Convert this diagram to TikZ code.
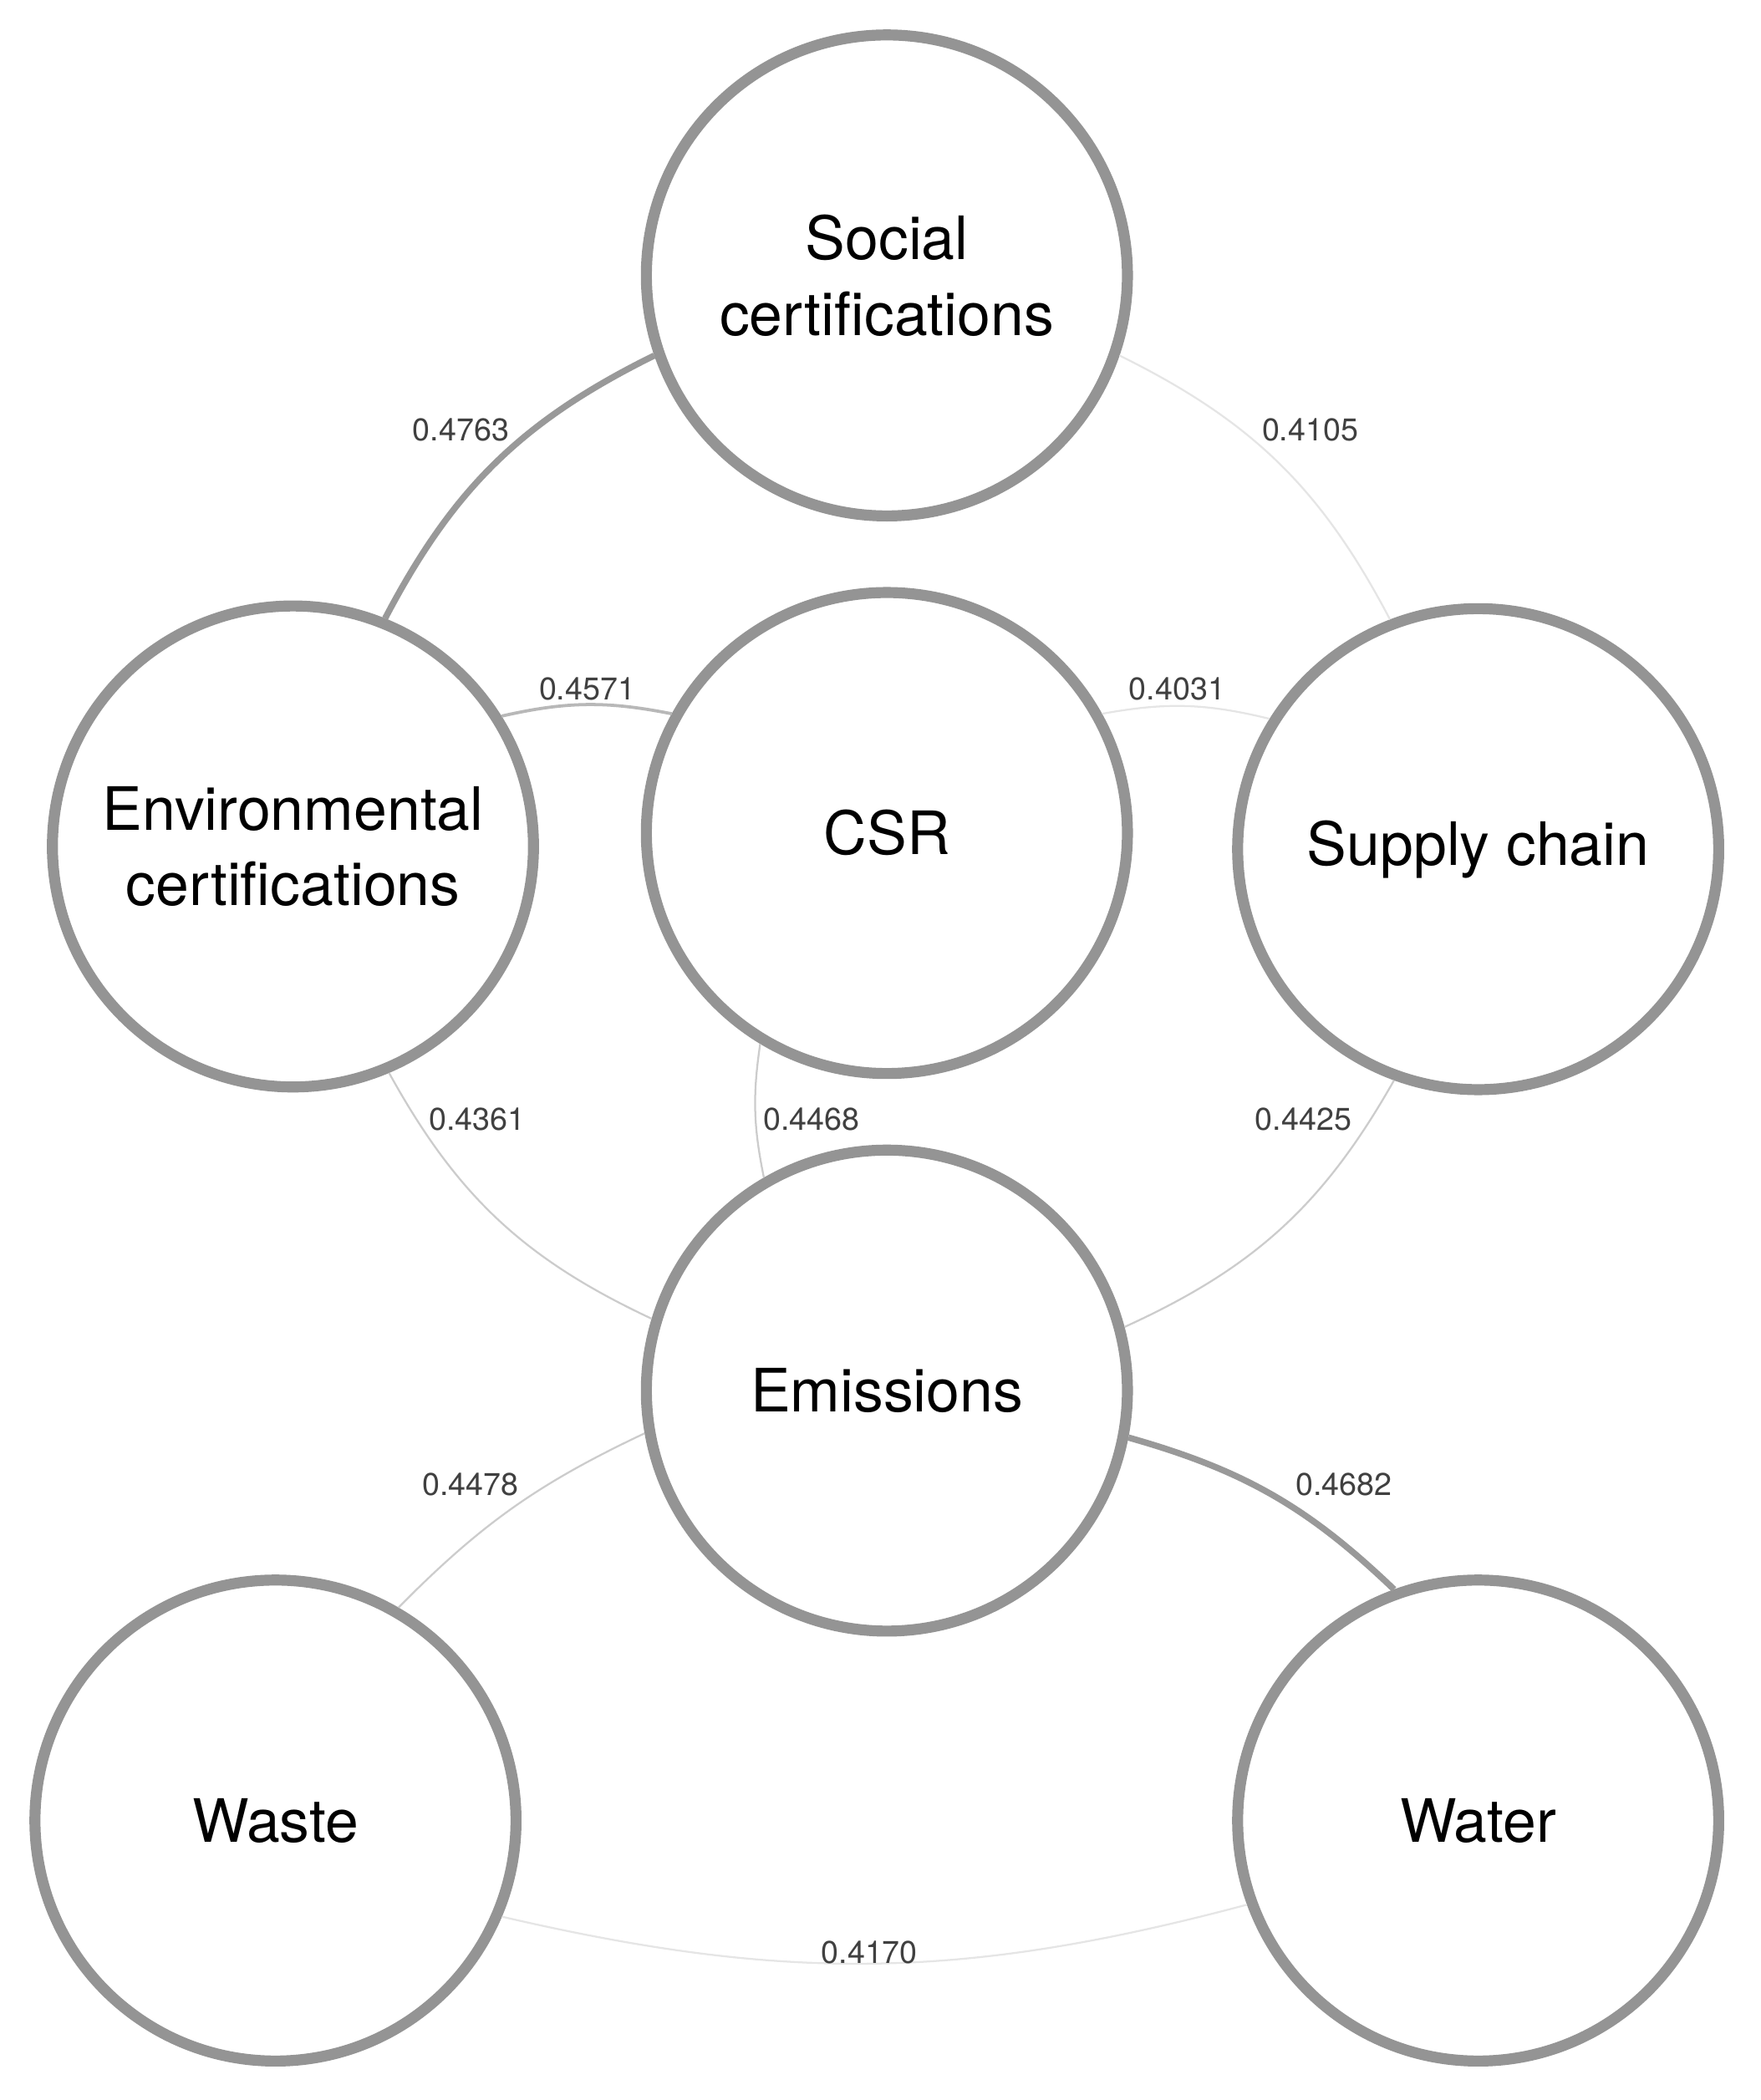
\documentclass[tikz,border=0pt]{standalone}
\usepackage{fontspec}
\setmainfont{TeX Gyre Heros}
\begin{document}
\begin{tikzpicture}[x=0.03cm,y=-0.03cm,
  topic/.style={circle,draw=black!42,line width=7pt,minimum size=358*0.03cm,inner sep=0pt,align=center,font=\fontsize{38}{48}\selectfont},
  lbl/.style={font=\fontsize{20}{24}\selectfont,text=black!75,inner sep=1pt},
  strong/.style={draw=black!40,line width=4pt},
  mid/.style={draw=black!28,line width=2pt},
  weak/.style={draw=black!20,line width=1.2pt},
  faint/.style={draw=black!10,line width=1.2pt}]
\useasboundingbox (0,0) rectangle (1310,1563);
\node[topic] (soc) at (660,205) {Social\\certifications};
\node[topic] (env) at (218,630) {Environmental\\certifications};
\node[topic] (csr) at (660,620) {CSR};
\node[topic] (sup) at (1100,632) {Supply chain};
\node[topic] (emi) at (660,1035) {Emissions};
\node[topic] (was) at (205,1355) {Waste};
\node[topic] (wat) at (1100,1355) {Water};

\draw[strong] (soc.199) to[bend right=18] (env.68);
\draw[faint] (soc.-19) to[bend left=18] (sup.111);
\draw[mid] (env.32) to[bend left=12] (csr.151);
\draw[faint] (csr.29) to[bend left=12] (sup.148);
\draw[weak] (env.-67) to[bend right=18] (emi.163);
\draw[weak] (csr.239) to[bend right=10] (emi.120);
\draw[weak] (sup.250) to[bend left=18] (emi.15);
\draw[weak] (emi.190) to[bend right=10] (was.60);
\draw[strong] (emi.-11) to[bend left=14] (wat.110);
\draw[faint] (was.-23) to[bend right=14] (wat.200);

\node[lbl] (l1) at (343,320) {0.4763};
\node[lbl] (l2) at (975,320) {0.4105};
\node[lbl] (l3) at (437,513) {0.4571};
\node[lbl] (l4) at (876,513) {0.4031};
\node[lbl] (l5) at (355,833) {0.4361};
\node[lbl] (l6) at (604,833) {0.4468};
\node[lbl] (l7) at (970,833) {0.4425};
\node[lbl] (l8) at (350,1105) {0.4478};
\node[lbl] (l9) at (1000,1105) {0.4682};
\node[lbl] (l10) at (647,1453) {0.4170};
\end{tikzpicture}
\end{document}
